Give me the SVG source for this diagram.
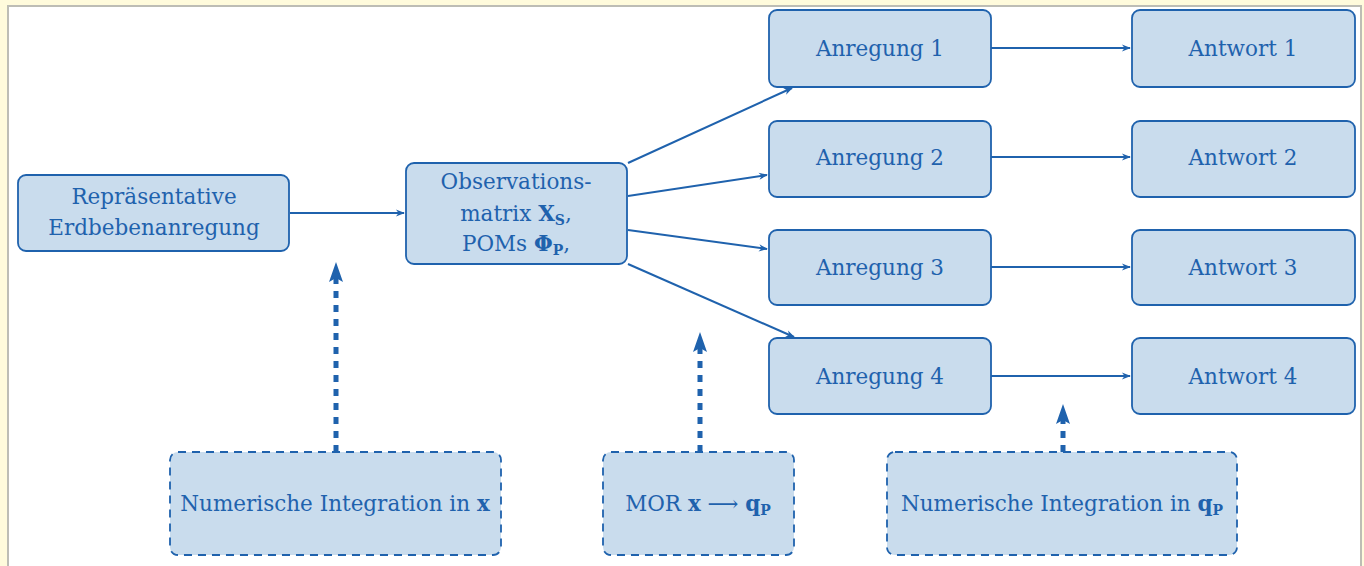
<svg xmlns="http://www.w3.org/2000/svg" width="1364" height="566" viewBox="0 0 1364 566">
<defs>
<style>
.bg{fill:#fffbdc}
.panel{fill:#ffffff;stroke:#bdbdb5;stroke-width:2}
.node{fill:#c9dced;stroke:#1f62ad;stroke-width:1.8}
.dnode{fill:#c9dced;stroke:#1f62ad;stroke-width:1.8;stroke-dasharray:8 6}
.t{font-family:"DejaVu Serif","Liberation Serif",serif;font-size:21.5px;fill:#1f62ad;text-anchor:middle}
.b{font-weight:bold}
.conn{stroke:#1f62ad;stroke-width:2;fill:none}
.dconn{stroke:#1f62ad;stroke-width:5;fill:none;stroke-dasharray:7 7}
.head{fill:#1f62ad}
</style>
<marker id="ah" viewBox="0 0 10 10" refX="9" refY="5" markerWidth="11" markerHeight="9" markerUnits="userSpaceOnUse" orient="auto">
<path d="M0,1 L10,5 L0,9 L3,5 Z" fill="#1f62ad"/>
</marker>
</defs>
<rect class="bg" x="0" y="0" width="1364" height="566"/>
<rect class="panel" x="8" y="6" width="1353" height="575"/>

<g id="connectors">
<line class="conn" x1="290" y1="213" x2="404" y2="213" marker-end="url(#ah)"/>
<line class="conn" x1="628" y1="163" x2="792" y2="88" marker-end="url(#ah)"/>
<line class="conn" x1="628" y1="196" x2="767" y2="175" marker-end="url(#ah)"/>
<line class="conn" x1="628" y1="230" x2="767" y2="249" marker-end="url(#ah)"/>
<line class="conn" x1="628" y1="264" x2="794" y2="337" marker-end="url(#ah)"/>
<line class="conn" x1="991" y1="48" x2="1130" y2="48" marker-end="url(#ah)"/>
<line class="conn" x1="991" y1="157" x2="1130" y2="157" marker-end="url(#ah)"/>
<line class="conn" x1="991" y1="267" x2="1130" y2="267" marker-end="url(#ah)"/>
<line class="conn" x1="991" y1="376" x2="1130" y2="376" marker-end="url(#ah)"/>
<line class="dconn" x1="336" y1="452" x2="336" y2="278"/>
<path class="head" d="M336,262 L343,282 L336,278 L329,282 Z"/>
<line class="dconn" x1="700" y1="452" x2="700" y2="348"/>
<path class="head" d="M700,332 L707,352 L700,348 L693,352 Z"/>
<line class="dconn" x1="1063" y1="452" x2="1063" y2="420"/>
<path class="head" d="M1063,404 L1070,424 L1063,420 L1056,424 Z"/>
</g>

<g id="n-erdbeben">
<rect class="node" x="18" y="175" width="271" height="76" rx="8"/>
<text class="t" x="154" y="204">Repräsentative</text>
<text class="t" x="154" y="235">Erdbebenanregung</text>
</g>
<g id="n-observation">
<rect class="node" x="406" y="163" width="221" height="101" rx="8"/>
<text class="t" x="516" y="189">Observations-</text>
<text class="t" x="516" y="221">matrix <tspan class="b">X</tspan><tspan class="b" font-size="14" baseline-shift="-4">S</tspan>,</text>
<text class="t" x="516" y="251">POMs <tspan class="b">Φ</tspan><tspan class="b" font-size="14" baseline-shift="-4">P</tspan>,</text>
</g>
<g id="n-anregung1">
<rect class="node" x="769" y="10" width="222" height="77" rx="8"/>
<text class="t" x="880" y="56">Anregung 1</text>
</g>
<g id="n-anregung2">
<rect class="node" x="769" y="121" width="222" height="76" rx="8"/>
<text class="t" x="880" y="165">Anregung 2</text>
</g>
<g id="n-anregung3">
<rect class="node" x="769" y="230" width="222" height="75" rx="8"/>
<text class="t" x="880" y="275">Anregung 3</text>
</g>
<g id="n-anregung4">
<rect class="node" x="769" y="338" width="222" height="76" rx="8"/>
<text class="t" x="880" y="384">Anregung 4</text>
</g>
<g id="n-antwort1">
<rect class="node" x="1132" y="10" width="223" height="77" rx="8"/>
<text class="t" x="1243" y="56">Antwort 1</text>
</g>
<g id="n-antwort2">
<rect class="node" x="1132" y="121" width="223" height="76" rx="8"/>
<text class="t" x="1243" y="165">Antwort 2</text>
</g>
<g id="n-antwort3">
<rect class="node" x="1132" y="230" width="223" height="75" rx="8"/>
<text class="t" x="1243" y="275">Antwort 3</text>
</g>
<g id="n-antwort4">
<rect class="node" x="1132" y="338" width="223" height="76" rx="8"/>
<text class="t" x="1243" y="384">Antwort 4</text>
</g>
<g id="n-numint-x">
<rect class="dnode" x="170" y="452" width="331" height="103" rx="8"/>
<text class="t" x="335" y="511">Numerische Integration in <tspan class="b">x</tspan></text>
</g>
<g id="n-mor">
<rect class="dnode" x="603" y="452" width="191" height="103" rx="8"/>
<text class="t" x="698" y="511">MOR <tspan class="b">x</tspan> ⟶ <tspan class="b">q</tspan><tspan class="b" font-size="14" baseline-shift="-4">P</tspan></text>
</g>
<g id="n-numint-q">
<rect class="dnode" x="887" y="452" width="350" height="103" rx="8"/>
<text class="t" x="1062" y="511">Numerische Integration in <tspan class="b">q</tspan><tspan class="b" font-size="14" baseline-shift="-4">P</tspan></text>
</g>
</svg>
